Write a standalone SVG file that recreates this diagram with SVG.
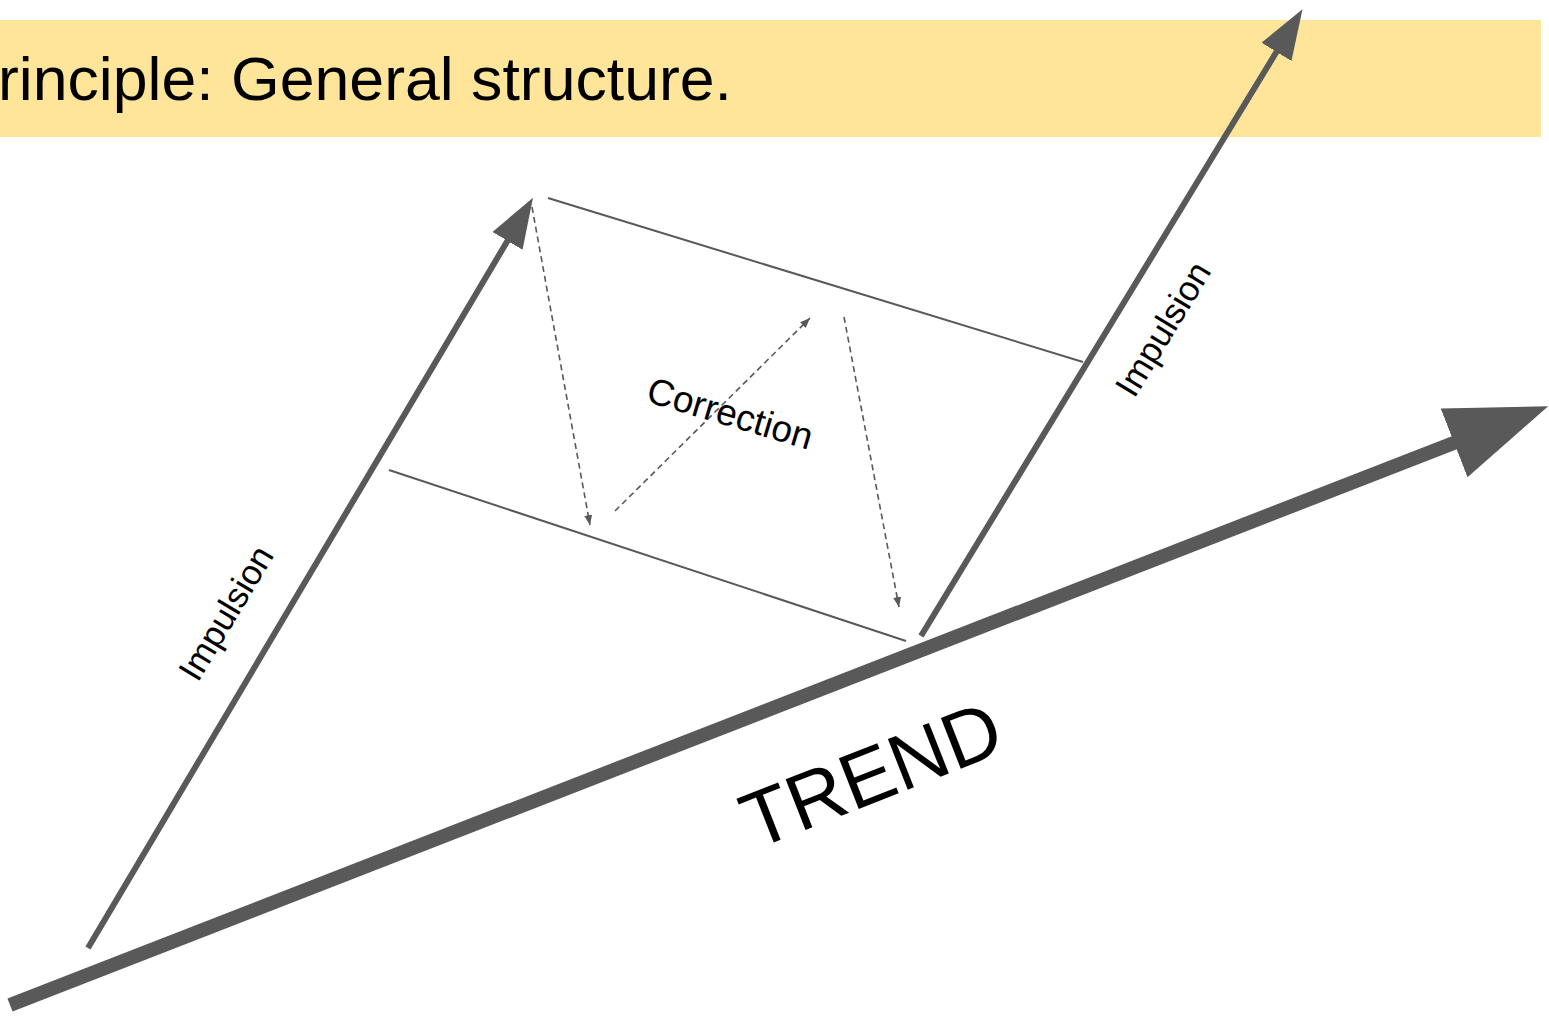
<svg xmlns="http://www.w3.org/2000/svg" width="1549" height="1016" viewBox="0 0 1549 1016">
<style>
.lbl{font-family:"Liberation Sans",Arial,sans-serif;fill:#000;text-anchor:middle}
.thin{stroke:#595959;stroke-width:2;fill:none}
.dash{stroke:#595959;stroke-width:1.6;stroke-dasharray:6 4;fill:none}
.imp{stroke:#595959;stroke-width:6;fill:none}
.trend{stroke:#595959;stroke-width:14;fill:none}
</style>
<defs>
<marker id="mTrend" markerUnits="userSpaceOnUse" markerWidth="110" markerHeight="80" refX="1" refY="37" orient="auto">
<path d="M0,0 L101,37 L0,74 z" fill="#595959"/>
</marker>
<marker id="mImp" markerUnits="userSpaceOnUse" markerWidth="60" markerHeight="40" refX="1" refY="17.5" orient="auto">
<path d="M0,0 L50,17.5 L0,35 z" fill="#595959"/>
</marker>
<marker id="mDash" markerUnits="userSpaceOnUse" markerWidth="12" markerHeight="10" refX="10" refY="4" orient="auto">
<path d="M0,0 L10,4 L0,8 z" fill="#595959"/>
</marker>
</defs>
<g id="title">
<rect x="0" y="20" width="1541" height="117" fill="#FFE599"/>
<text class="lbl" x="-2" y="100" font-size="62" textLength="734" lengthAdjust="spacingAndGlyphs" style="text-anchor:start">rinciple: General structure.</text>
</g>
<g id="connectors">
<line class="trend" x1="10" y1="1005" x2="1455" y2="442.5" marker-end="url(#mTrend)"/>
<line class="imp" x1="88" y1="948" x2="508" y2="240" marker-end="url(#mImp)"/>
<line class="imp" x1="921" y1="636" x2="1277" y2="51" marker-end="url(#mImp)"/>
<line class="thin" x1="548" y1="198" x2="1083" y2="362"/>
<line class="thin" x1="389" y1="470" x2="906" y2="641"/>
<line class="dash" x1="532" y1="207" x2="590" y2="525" marker-end="url(#mDash)"/>
<line class="dash" x1="615" y1="511" x2="810" y2="318" marker-end="url(#mDash)"/>
<line class="dash" x1="844" y1="317" x2="899" y2="607" marker-end="url(#mDash)"/>
</g>
<g id="label-impulsion-left">
<text class="lbl" font-size="35" transform="translate(226,613) rotate(-59)" x="0" y="12">Impulsion</text>
</g>
<g id="label-impulsion-right">
<text class="lbl" font-size="35" transform="translate(1163,329) rotate(-58.7)" x="0" y="12">Impulsion</text>
</g>
<g id="label-correction">
<text class="lbl" font-size="37" transform="translate(730,414) rotate(16.5)" x="0" y="12">Correction</text>
</g>
<g id="label-trend">
<text class="lbl" font-size="79" transform="translate(871,774) rotate(-21.5)" x="0" y="28">TREND</text>
</g>
</svg>
